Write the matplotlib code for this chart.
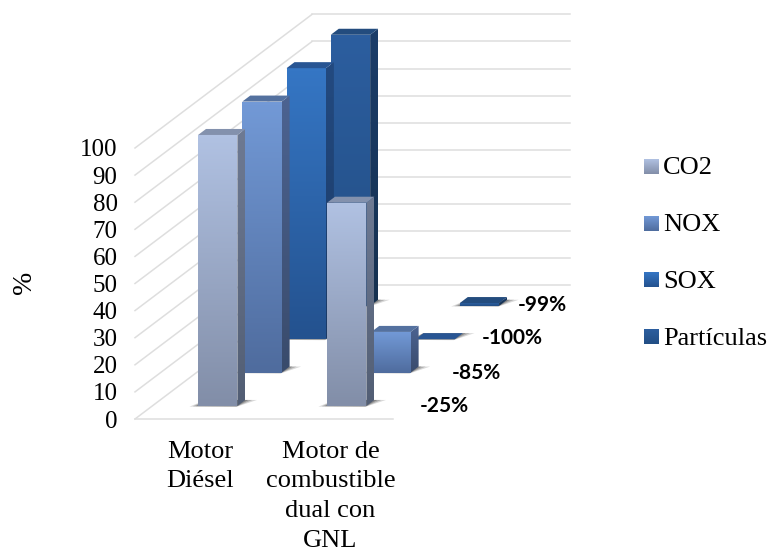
import numpy as np
import matplotlib
matplotlib.use('Agg')
import matplotlib.pyplot as plt
from matplotlib import colors
from matplotlib.patches import Polygon

categories = ['Motor\nDiésel', 'Motor de\ncombustible\ndual con\nGNL']
series = ['CO2', 'NOX', 'SOX', 'Partículas']
diesel = [100, 100, 100, 100]
dual_gnl = [75, 15, 0, 1]
change_labels = ['-25%', '-85%', '-100%', '-99%']
yticks = np.arange(0, 101, 10)

# colours per series: front top, front bottom, side top, side bottom, top face
front_top = ['#B0C1E2', '#7299D6', '#3576C4', '#2C5E9F']
front_bot = ['#828EA8', '#4F6C9E', '#24528F', '#224E84']
side_top = ['#6E7A93', '#4C6391', '#234A80', '#1C3D69']
side_bot = ['#525E74', '#394B6C', '#1B3A66', '#163150']
top_face = ['#8391AD', '#54719F', '#285593', '#234C7E']

# oblique projection, all in figure pixels
X0, Y0 = 135.0, 419.0
CAT_W = 129.0
DEPTH_X, DEPTH_Y = 44.25, 33.4
UNIT = 2.71
BAR_W = 0.305
BAR_D = 0.18
SERIF = 'Liberation Serif'
GRID = '#DEDEDE'
LABEL_X = [444, 476, 512, 542.5]
LABEL_Y = [406.5, 373, 338, 305]


def project(u, v, z):
    return X0 + u * CAT_W + v * DEPTH_X, Y0 - v * DEPTH_Y - z * UNIT


def gradient_poly(ax, pts, c_top, c_bot, ymin, ymax, zorder):
    cmap = colors.LinearSegmentedColormap.from_list('g', [c_top, c_bot])
    xs = [p[0] for p in pts]
    grad = np.linspace(0, 1, 64).reshape(-1, 1)
    im = ax.imshow(grad, cmap=cmap, vmin=0, vmax=1, aspect='auto', zorder=zorder,
                   extent=(min(xs), max(xs), ymax, ymin), interpolation='bilinear')
    clip = Polygon(pts, closed=True, transform=ax.transData)
    im.set_clip_path(clip)


def draw_bar(ax, cat, s, value, zorder):
    u0, u1 = cat + 0.355, cat + 0.355 + BAR_W
    v0, v1 = s + 0.39, s + 0.39 + BAR_D

    # soft shadow on the floor, a few widening layers
    for grow, alpha in [(1.0, 0.2), (0.6, 0.28), (0.25, 0.4)]:
        shadow = [project(u0 - 0.06 * grow, v0 - 0.02 * grow, 0), project(u1, v0 - 0.03 * grow, 0),
                  project(u1 + 0.09 * grow, v1, 0), project(u0, v1, 0)]
        ax.add_patch(Polygon(shadow, closed=True, fc='#444444', ec='none', alpha=alpha, zorder=zorder))
    zorder += 1

    base_y = project(u0, v0, 0)[1]
    top_y = project(u0, v0, value)[1]
    back_top_y = project(u0, v1, value)[1]

    front = [project(u0, v0, 0), project(u1, v0, 0), project(u1, v0, value), project(u0, v0, value)]
    side = [project(u1, v0, 0), project(u1, v1, 0), project(u1, v1, value), project(u1, v0, value)]
    top = [project(u0, v0, value), project(u1, v0, value), project(u1, v1, value), project(u0, v1, value)]

    span_top = min(top_y, back_top_y) - 0.01
    if value > 0:
        gradient_poly(ax, side, side_top[s], side_bot[s], span_top, base_y, zorder)
        gradient_poly(ax, front, front_top[s], front_bot[s], top_y, base_y, zorder + 1)
    ax.add_patch(Polygon(top, closed=True, fc=top_face[s], ec='none', zorder=zorder + 2))
    return zorder + 3


plt.rcParams['font.family'] = [SERIF, 'DejaVu Serif']

fig = plt.figure(figsize=(7.69, 5.52), dpi=100)
ax = fig.add_axes([0, 0, 1, 1])

# walls and floor
for t in yticks:
    ax.plot(*zip(project(0, 0, t), project(0, 4, t)), color=GRID, lw=1.1, zorder=1)
    ax.plot(*zip(project(0, 4, t), project(2, 4, t)), color=GRID, lw=1.1, zorder=1)
    ax.text(117.5, project(0, 0, t)[1] + 8.5, str(t), ha='right', va='baseline', fontsize=18, color='black')
ax.plot(*zip(project(0, 0, 0), project(2, 0, 0)), color=GRID, lw=1.1, zorder=1)

# painter's order, back row first
z = 2
for s in range(len(series) - 1, -1, -1):
    for cat, vals in enumerate([diesel, dual_gnl]):
        z = draw_bar(ax, cat, s, vals[s], z)

# change labels next to the second group of bars
for s, lab in enumerate(change_labels):
    ax.text(LABEL_X[s], LABEL_Y[s], lab, ha='center', va='center', fontsize=15,
            fontweight='bold', family='Lato', color='black', zorder=z)

# category labels
for cat, lab in enumerate(categories):
    xc = 200.5 + cat * (CAT_W + 1)
    for n, line in enumerate(lab.split('\n')):
        ax.text(xc, 457.5 + n * 29.7, line, ha='center', va='baseline', fontsize=19, color='black')

ax.text(24.5, 282, '%', rotation=90, ha='center', va='center', fontsize=20, color='black')

# legend
for s, name in enumerate(series):
    yc = 166.5 + s * 56.7
    swatch = [(644, yc - 7.5), (659, yc - 7.5), (659, yc + 7.5), (644, yc + 7.5)]
    gradient_poly(ax, swatch, front_top[s], front_bot[s], yc - 7.5, yc + 7.5, z)
    ax.text(663, yc + 8, name, ha='left', va='baseline', fontsize=19, color='black')

ax.set_xlim(0, 769)
ax.set_ylim(552, 0)
ax.axis('off')

plt.savefig('out.png', dpi=100, facecolor='w')
